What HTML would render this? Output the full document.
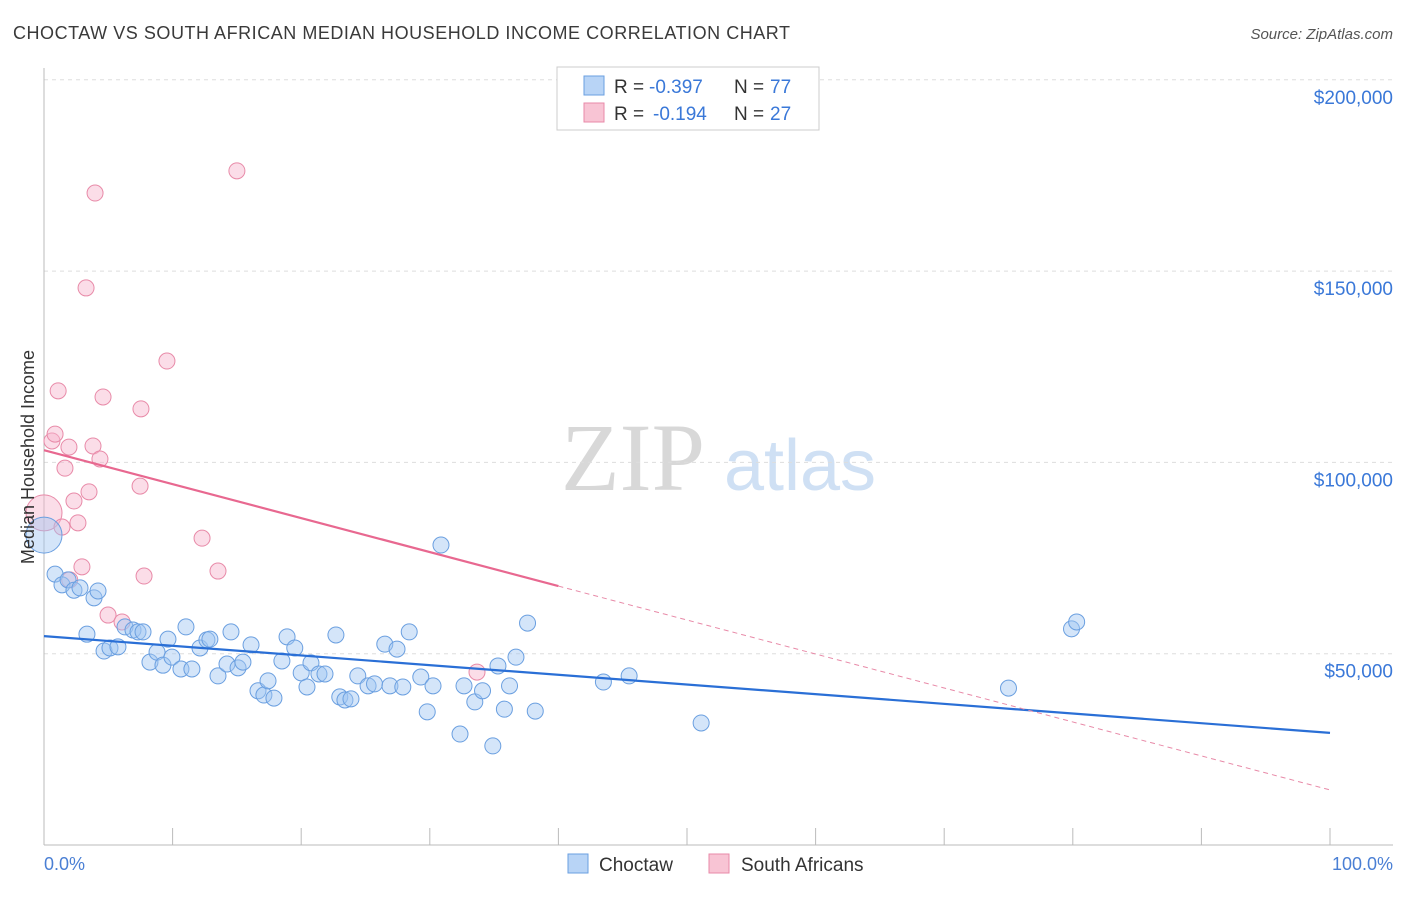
<!DOCTYPE html>
<html><head><meta charset="utf-8"><style>
body{margin:0;background:#fff;font-family:"Liberation Sans",sans-serif}
</style></head><body>
<svg width="1406" height="892" xmlns="http://www.w3.org/2000/svg" id="chart" font-family="Liberation Sans, sans-serif">
<text x="13" y="39" font-size="18" fill="#3a3a3a" textLength="777" lengthAdjust="spacing">CHOCTAW VS SOUTH AFRICAN MEDIAN HOUSEHOLD INCOME CORRELATION CHART</text>
<text x="1393" y="39" font-size="15" fill="#555" font-style="italic" text-anchor="end">Source: ZipAtlas.com</text>
<g>
<text x="633" y="490" font-size="96" fill="#d8d8d8" font-family="Liberation Serif, serif" text-anchor="middle">ZIP</text>
<text x="800" y="490" font-size="72" fill="#cfe0f4" text-anchor="middle">atlas</text>
</g>
<g id="grid"></g>
<g id="axes"></g>
<g id="marks"></g>
<text transform="translate(34,457) rotate(-90)" font-size="18" fill="#333" text-anchor="middle">Median Household Income</text>
<text x="44" y="870" font-size="18" fill="#4a7fd4">0.0%</text>
<text x="1393" y="870" font-size="18" fill="#4a7fd4" text-anchor="end">100.0%</text>
<g>
<rect x="557" y="67" width="262" height="63" fill="#fff" stroke="#ccc"/>
<rect x="584" y="76" width="20" height="19" fill="#b8d4f6" stroke="#6a9fe0"/>
<rect x="584" y="103" width="20" height="19" fill="#f8c4d4" stroke="#e88aa8"/>
<text x="614" y="93" font-size="19" fill="#333">R =</text>
<text x="649" y="93" font-size="19" fill="#3a78d8">-0.397</text>
<text x="734" y="93" font-size="19" fill="#333">N =</text>
<text x="770" y="93" font-size="19" fill="#3a78d8">77</text>
<text x="614" y="120" font-size="19" fill="#333">R =</text>
<text x="653" y="120" font-size="19" fill="#3a78d8">-0.194</text>
<text x="734" y="120" font-size="19" fill="#333">N =</text>
<text x="770" y="120" font-size="19" fill="#3a78d8">27</text>
</g>
<g>
<rect x="568" y="854" width="20" height="19" fill="#b8d4f6" stroke="#6a9fe0"/>
<text x="599" y="871" font-size="19" fill="#333">Choctaw</text>
<rect x="709" y="854" width="20" height="19" fill="#f8c4d4" stroke="#e88aa8"/>
<text x="741" y="871" font-size="19" fill="#333">South Africans</text>
</g>
</svg>
<script>
const yTicks=[50000,100000,150000,200000];
const yTickLabels=["$50,000","$100,000","$150,000","$200,000"];
const blueX=[0,0.86,1.4,1.87,2.33,2.8,3.34,3.89,4.2,4.67,5.13,5.75,6.3,6.92,7.31,7.7,8.24,8.79,9.25,9.64,9.95,10.65,11.04,11.5,12.13,12.67,12.9,13.53,14.23,14.54,15.09,15.47,16.1,16.64,17.1,17.42,17.88,18.5,18.9,19.5,20.0,20.45,20.76,21.38,21.85,22.7,23.0,23.4,23.87,24.4,25.2,25.7,26.5,26.9,27.45,27.9,28.4,29.3,29.8,30.25,30.87,32.35,32.66,33.5,34.1,34.9,35.3,35.8,36.2,36.7,37.6,38.2,43.5,45.5,51.1,75.0,79.9,80.3];
const blueY=[81.0,70.8,68.0,69.3,66.6,67.2,55.1,64.6,66.4,50.7,51.5,51.8,57.0,56.2,55.7,55.7,47.8,50.4,47.0,53.8,49.1,46.0,57.0,46.0,51.5,53.6,53.8,44.2,47.3,55.7,46.3,47.8,52.3,40.3,39.2,42.9,38.4,48.1,54.4,51.5,45.0,41.3,47.6,44.7,44.7,54.9,38.7,37.9,38.2,44.2,41.6,42.1,52.5,41.6,51.2,41.3,55.7,43.9,34.8,41.6,78.4,29.0,41.6,37.4,40.3,25.9,46.8,35.5,41.6,49.1,58.0,35.0,42.6,44.2,31.9,41.0,56.5,58.3];
const pinkX=[0,0.62,0.86,1.1,1.4,1.63,1.94,2.33,2.64,2.95,3.27,3.5,3.81,3.97,4.35,4.59,4.98,6.07,7.54,7.47,7.78,9.56,12.29,13.53,15.0,33.67,2.0];
const pinkY=[86.8,105.6,107.4,118.7,83.1,98.5,104.0,89.9,84.2,72.7,145.6,92.3,104.3,170.4,100.9,117.1,60.1,58.3,114.0,93.8,70.3,126.5,80.2,71.6,176.2,45.2,69.3];
const blueTrend=[54600,29300];
const pinkTrend=[103200,14400];
const pinkSolidEnd=40;
const X=p=>44+p*12.86;
const Y=v=>845-v/50000*191.3;
const NS="http://www.w3.org/2000/svg";
function mk(tag,attrs,parent){const e=document.createElementNS(NS,tag);for(const k in attrs)e.setAttribute(k,attrs[k]);document.getElementById(parent).appendChild(e);return e;}
yTicks.forEach((t,i)=>{
 const l=mk('line',{x1:44,x2:1393,y1:Y(t),y2:Y(t),stroke:'#ddd','stroke-dasharray':'4,4'},'grid');
 
 
 const tx=mk('text',{x:1393,y:Y(t)+24,'font-size':19,fill:'#3a78d8','text-anchor':'end'},'grid');
 tx.textContent=yTickLabels[i];
 
 
});
const ax=mk('line',{x1:44,x2:1393,y1:845,y2:845,stroke:'#bbb'},'axes');


const ay=mk('line',{x1:44,x2:44,y1:68,y2:845,stroke:'#bbb'},'axes');


for(let i=1;i<=10;i++){const tk=mk('line',{x1:X(i*10),x2:X(i*10),y1:828,y2:845,stroke:'#bbb'},'axes');
 
 }
function dot(x,y,big,blue){
 const c=mk('circle',{cx:X(x),cy:Y(y*1000),r:big?18:8,fill:blue?'rgba(160,198,242,0.45)':'rgba(246,180,204,0.45)',stroke:blue?'#6a9fe0':'#e88aa8','stroke-width':1},'marks');
 
 
}
pinkX.forEach((x,i)=>dot(x,pinkY[i],i==0,false));
blueX.forEach((x,i)=>dot(x,blueY[i],i==0,true));
const bt=mk('line',{x1:X(0),y1:Y(blueTrend[0]),x2:X(100),y2:Y(blueTrend[1]),stroke:'#2a6fd6','stroke-width':2.2},'marks');


const pv=p=>pinkTrend[0]+(pinkTrend[1]-pinkTrend[0])*p/100;
const ps=mk('line',{x1:X(0),y1:Y(pinkTrend[0]),x2:X(pinkSolidEnd),y2:Y(pv(pinkSolidEnd)),stroke:'#e86890','stroke-width':2.2},'marks');


const pd=mk('line',{x1:X(pinkSolidEnd),y1:Y(pv(pinkSolidEnd)),x2:X(100),y2:Y(pinkTrend[1]),stroke:'#e88aa8','stroke-width':1,'stroke-dasharray':'5,4'},'marks');


</script>
</body></html>
